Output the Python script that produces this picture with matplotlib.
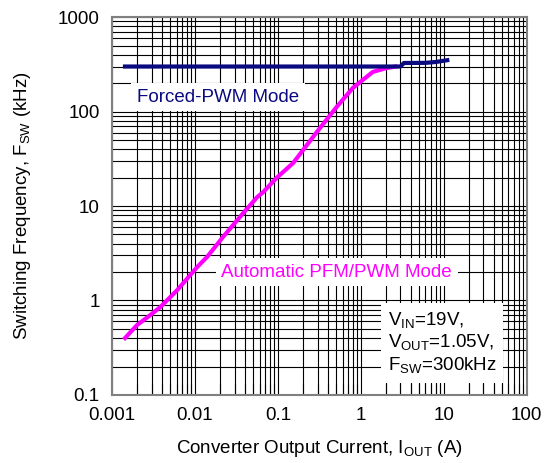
import numpy as np
import matplotlib
matplotlib.use("Agg")
import matplotlib.pyplot as plt
from matplotlib.ticker import LogLocator, NullFormatter, FixedLocator, FixedFormatter

plt.rcParams['font.family'] = ['Liberation Sans', 'DejaVu Sans']

# Forced-PWM mode data (A, kHz)
pwm_current = [0.00143, 0.01, 0.1, 1.0, 3.0, 3.3, 6.0, 8.0, 11.0]
pwm_freq = [300, 300, 300, 300, 300, 327, 328, 335, 350]

# Automatic PFM/PWM mode data (A, kHz)
pfm_current = [0.00143, 0.002, 0.0027, 0.0038, 0.0061, 0.0106, 0.014, 0.0217, 0.038,
               0.056, 0.066, 0.097, 0.152, 0.2, 0.295, 0.51, 0.8, 1.39, 2.0, 2.6]
pfm_freq = [0.40, 0.55, 0.67, 0.85, 1.29, 2.26, 2.9, 4.7, 8.4,
            12.4, 14.0, 20.0, 28.5, 39.0, 61.0, 112.0, 178.0, 263.0, 288.0, 300.0]

x_ticks = [0.001, 0.01, 0.1, 1, 10, 100]
x_labels = ['0.001', '0.01', '0.1', '1', '10', '100']
y_ticks = [0.1, 1, 10, 100, 1000]
y_labels = ['0.1', '1', '10', '100', '1000']

fig = plt.figure(figsize=(5.47, 4.63), dpi=100)
ax = fig.add_axes([0.205, 0.147, 0.758, 0.816])

ax.set_xscale('log')
ax.set_yscale('log')
ax.set_xlim(0.001, 100)
ax.set_ylim(0.1, 1000)

ax.xaxis.set_major_locator(FixedLocator(x_ticks))
ax.xaxis.set_major_formatter(FixedFormatter(x_labels))
ax.yaxis.set_major_locator(FixedLocator(y_ticks))
ax.yaxis.set_major_formatter(FixedFormatter(y_labels))
ax.xaxis.set_minor_locator(LogLocator(base=10, subs=np.arange(2, 10), numticks=20))
ax.yaxis.set_minor_locator(LogLocator(base=10, subs=np.arange(2, 10), numticks=20))
ax.xaxis.set_minor_formatter(NullFormatter())
ax.yaxis.set_minor_formatter(NullFormatter())

ax.grid(True, which='both', color='black', linewidth=0.8)
ax.set_axisbelow(True)
ax.tick_params(which='major', direction='in', length=0, labelsize=13.5, pad=9, colors='black')
ax.tick_params(which='minor', direction='in', length=8, width=0.8, bottom=True, top=False, left=False)
for s in ax.spines.values():
    s.set_color('#808080')
    s.set_linewidth(1.5)

ax.plot(pfm_current, pfm_freq, color='#ff00ff', linewidth=3, zorder=3)
ax.plot(pwm_current, pwm_freq, color='#0a0a80', linewidth=3, zorder=4)

box = dict(facecolor='white', edgecolor='none', pad=4)
ax.text(0.019, 142, 'Forced-PWM Mode', color='#0a0a80', fontsize=13.5,
        ha='center', va='center', bbox=box, zorder=5)
ax.text(0.51, 2.0, 'Automatic PFM/PWM Mode', color='#ff00ff', fontsize=13.5,
        ha='center', va='center', bbox=box, zorder=5)
ax.text(2.1, 0.16, 'V$_{\\mathregular{IN}}$=19V,\nV$_{\\mathregular{OUT}}$=1.05V,\nF$_{\\mathregular{SW}}$=300kHz',
        color='black', fontsize=13.5, ha='left', va='bottom', linespacing=1.15,
        bbox=dict(facecolor='white', edgecolor='none', pad=5), zorder=5)

ax.set_xlabel('Converter Output Current, I$_{\\mathregular{OUT}}$ (A)', fontsize=13.5, labelpad=10)
ax.set_ylabel('Switching Frequency, F$_{\\mathregular{SW}}$ (kHz)', fontsize=13.5, labelpad=18)

fig.savefig('out.png', dpi=100)
